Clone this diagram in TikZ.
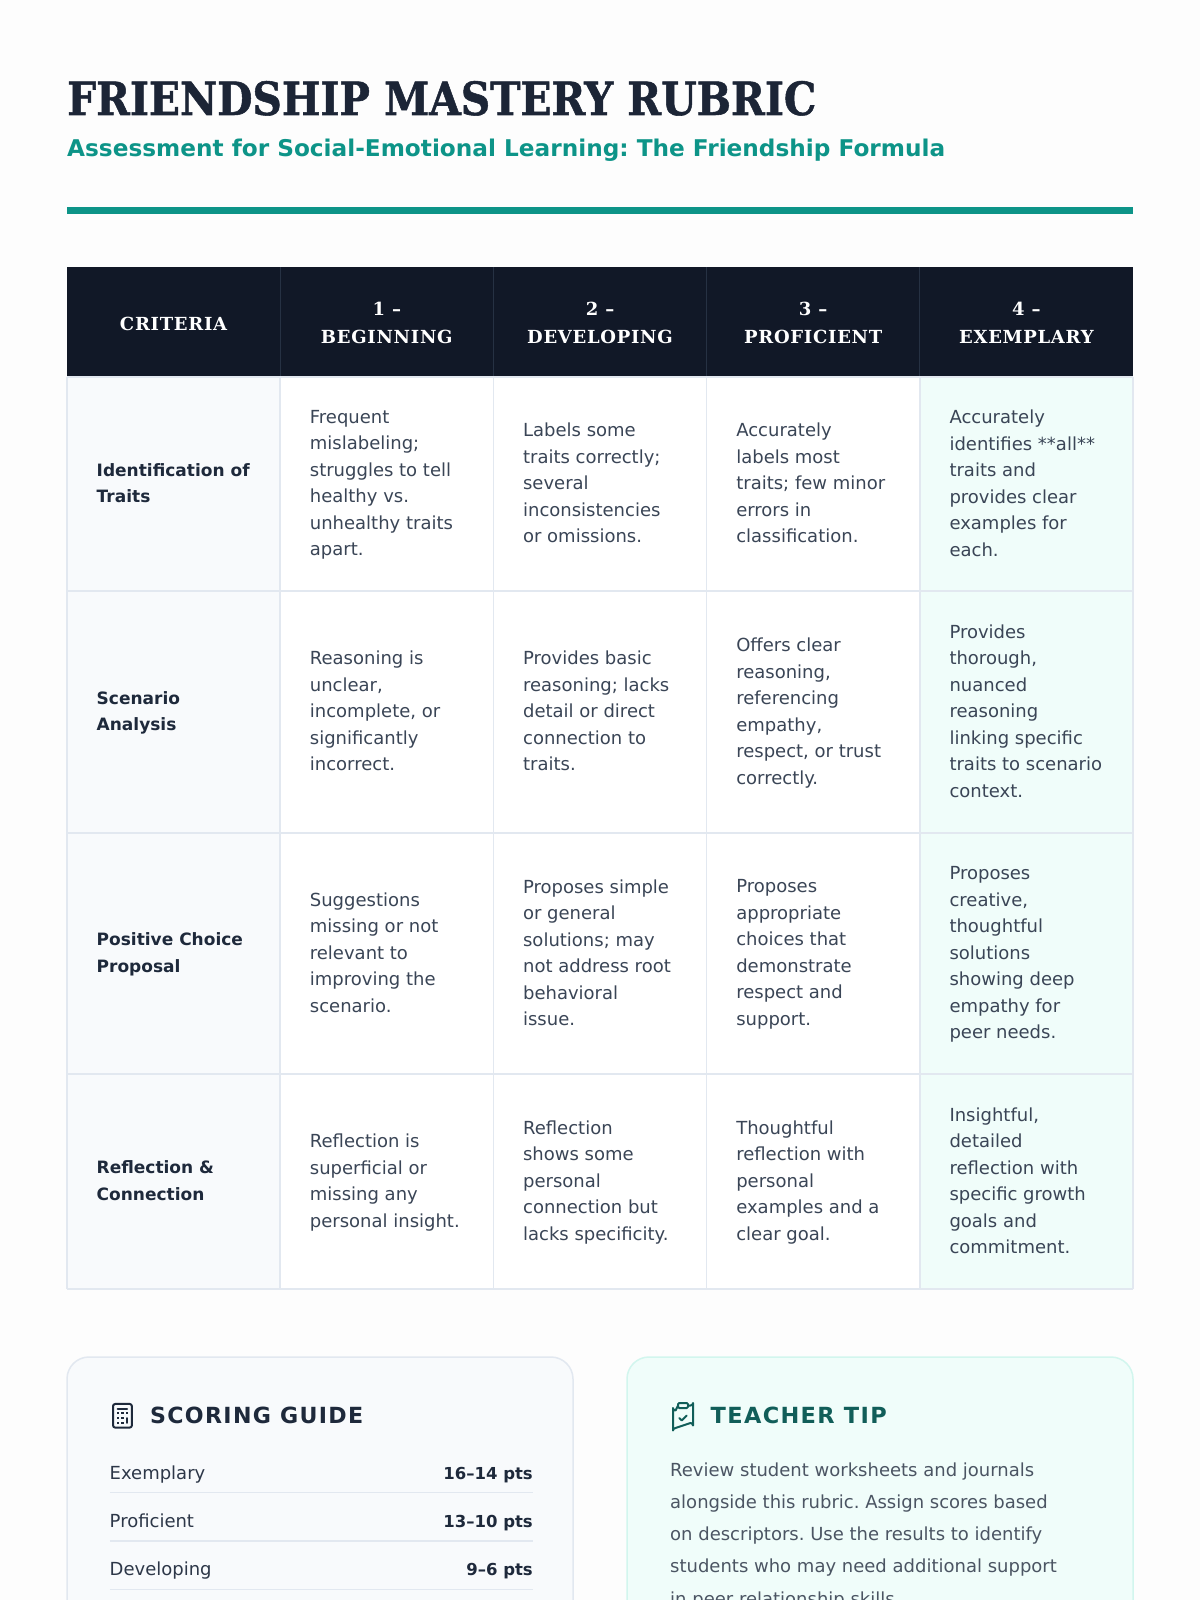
\documentclass[tikz,border=0pt]{standalone}
\usepackage{fontspec}
\usepackage{graphicx}
\setmainfont{DejaVu Sans}
\newfontfamily\slabfont{DejaVu Serif}[BoldFeatures={FakeBold=1.2}]
\newfontfamily\slabspaced{DejaVu Serif}[LetterSpace=4]
\newfontfamily\sansspaced{DejaVu Sans}[LetterSpace=6]
\frenchspacing
\definecolor{pagebg}{HTML}{FDFDFD}
\definecolor{titleink}{HTML}{1C2536}
\definecolor{tealink}{HTML}{0D9488}
\definecolor{headbg}{HTML}{111827}
\definecolor{headsep}{HTML}{263143}
\definecolor{gridline}{HTML}{E2E8F0}
\definecolor{critbg}{HTML}{F8FAFC}
\definecolor{exbg}{HTML}{F0FDFA}
\definecolor{bodyink}{HTML}{3A4556}
\definecolor{critink}{HTML}{1E293B}
\definecolor{rowink}{HTML}{2D3748}
\definecolor{tipborder}{HTML}{D2F6EE}
\definecolor{tipink}{HTML}{115E59}
\definecolor{tiptext}{HTML}{4B5563}
\begin{document}
\begin{tikzpicture}[x=1pt,y=-1pt,
  cellbody/.style={anchor=west, align=left, inner sep=0pt, text=bodyink,
    font=\fontsize{18pt}{26.5pt}\selectfont, yshift=-3pt,
    execute at begin node=\strut, execute at end node=\strut},
  crit/.style={anchor=west, align=left, inner sep=0pt, text=critink,
    font=\bfseries\fontsize{17pt}{26.5pt}\selectfont, yshift=-3pt,
    execute at begin node=\strut, execute at end node=\strut},
  headtxt/.style={align=center, inner sep=0pt, text=white,
    font=\slabspaced\bfseries\fontsize{18pt}{28pt}\selectfont},
  gridrule/.style={draw=gridline, line width=1.5pt},
  rowlabel/.style={anchor=base west, inner sep=0pt, text=rowink,
    font=\fontsize{18pt}{22pt}\selectfont},
  rowvalue/.style={anchor=base east, inner sep=0pt, text=critink,
    font=\bfseries\fontsize{16.5pt}{22pt}\selectfont},
  tipline/.style={anchor=base west, inner sep=0pt, text=tiptext,
    font=\fontsize{18pt}{22pt}\selectfont},
  iconstroke/.style={line width=2pt, line cap=round, line join=round}
]
\clip (0,0) rectangle (1200,1600);
\fill[pagebg] (0,0) rectangle (1200,1600);

% ---------- title block ----------
\node[anchor=base west, inner sep=0pt, text=titleink] (title) at (67,115)
  {\resizebox{749pt}{34pt}{\slabfont\bfseries FRIENDSHIP MASTERY RUBRIC}};
\node[anchor=base west, inner sep=0pt, text=tealink] (subtitle) at (67,156)
  {\resizebox{878pt}{17.5pt}{\bfseries\fontsize{22pt}{26pt}\selectfont Assessment for Social-Emotional Learning: The Friendship Formula}};
\fill[tealink] (67,207.3) rectangle (1133,213.5);

% ---------- table backgrounds ----------
\fill[headbg] (67,267) rectangle (1133,377);
\fill[critbg] (67,377) rectangle (280.2,1289);
\fill[white] (280.2,377) rectangle (919.8,1289);
\fill[exbg] (919.8,377) rectangle (1133,1289);
\foreach \xx in {280.2,493.4,706.6,919.8}
  \draw[headsep, line width=1.2pt] (\xx,267) -- (\xx,377);
\foreach \xx in {67,280.2,493.4,706.6,919.8,1133}
  \draw[gridrule] (\xx,377) -- (\xx,1289);
\foreach \yy in {377,591,833,1074,1289}
  \draw[gridrule] (67,\yy) -- (1133,\yy);

% ---------- header ----------
\node[headtxt] (h0) at (173.6,323.5) {CRITERIA};
\node[headtxt] (h1) at (386.8,322.5) {1 –\\BEGINNING};
\node[headtxt] (h2) at (600,322.5) {2 –\\DEVELOPING};
\node[headtxt] (h3) at (813.2,322.5) {3 –\\PROFICIENT};
\node[headtxt] (h4) at (1026.4,322.5) {4 –\\EXEMPLARY};

% ---------- row 1 ----------
\node[crit] (r1c0) at (96.5,484) {Identification of\\Traits};
\node[cellbody] (r1c1) at (309.7,484) {Frequent\\mislabeling;\\struggles to tell\\healthy vs.\\unhealthy traits\\apart.};
\node[cellbody] (r1c2) at (522.9,484) {Labels some\\traits correctly;\\several\\inconsistencies\\or omissions.};
\node[cellbody] (r1c3) at (736.1,484) {Accurately\\labels most\\traits; few minor\\errors in\\classification.};
\node[cellbody] (r1c4) at (949.3,484) {Accurately\\identifies **all**\\traits and\\provides clear\\examples for\\each.};

% ---------- row 2 ----------
\node[crit] (r2c0) at (96.5,712) {Scenario\\Analysis};
\node[cellbody] (r2c1) at (309.7,712) {Reasoning is\\unclear,\\incomplete, or\\significantly\\incorrect.};
\node[cellbody] (r2c2) at (522.9,712) {Provides basic\\reasoning; lacks\\detail or direct\\connection to\\traits.};
\node[cellbody] (r2c3) at (736.1,712) {Offers clear\\reasoning,\\referencing\\empathy,\\respect, or trust\\correctly.};
\node[cellbody] (r2c4) at (949.3,712) {Provides\\thorough,\\nuanced\\reasoning\\linking specific\\traits to scenario\\context.};

% ---------- row 3 ----------
\node[crit] (r3c0) at (96.5,953.5) {Positive Choice\\Proposal};
\node[cellbody] (r3c1) at (309.7,953.5) {Suggestions\\missing or not\\relevant to\\improving the\\scenario.};
\node[cellbody] (r3c2) at (522.9,953.5) {Proposes simple\\or general\\solutions; may\\not address root\\behavioral\\issue.};
\node[cellbody] (r3c3) at (736.1,953.5) {Proposes\\appropriate\\choices that\\demonstrate\\respect and\\support.};
\node[cellbody] (r3c4) at (949.3,953.5) {Proposes\\creative,\\thoughtful\\solutions\\showing deep\\empathy for\\peer needs.};

% ---------- row 4 ----------
\node[crit] (r4c0) at (96.5,1181.5) {Reflection \&\\Connection};
\node[cellbody] (r4c1) at (309.7,1181.5) {Reflection is\\superficial or\\missing any\\personal insight.};
\node[cellbody] (r4c2) at (522.9,1181.5) {Reflection\\shows some\\personal\\connection but\\lacks specificity.};
\node[cellbody] (r4c3) at (736.1,1181.5) {Thoughtful\\reflection with\\personal\\examples and a\\clear goal.};
\node[cellbody] (r4c4) at (949.3,1181.5) {Insightful,\\detailed\\reflection with\\specific growth\\goals and\\commitment.};

% ---------- cards ----------
\draw[gridline, line width=1.5pt, fill=critbg, rounded corners=22pt] (67,1357) rectangle (573,1720);
\draw[tipborder, line width=1.5pt, fill=exbg, rounded corners=22pt] (627,1357) rectangle (1133,1720);

% calculator icon
\begin{scope}[shift={(108.3,1401.6)}, x=1.18pt, y=-1.18pt]
  \draw[critink, iconstroke, rounded corners=2.2pt] (4,2) rectangle (20,22);
  \draw[critink, iconstroke] (8,6) -- (16,6);
  \draw[critink, iconstroke] (16,14) -- (16,18);
  \foreach \px/\py in {8/10,12/10,16/10,8/14,12/14,8/18,12/18}
    \fill[critink] (\px-0.9,\py-0.9) rectangle (\px+0.9,\py+0.9);
\end{scope}
\node[anchor=base west, inner sep=0pt, text=critink] (sghead) at (150,1423)
  {\resizebox{213pt}{16.5pt}{\sansspaced\bfseries SCORING GUIDE}};

\node[rowlabel] (l1) at (109.5,1479.3) {Exemplary};
\node[rowvalue] (v1) at (533,1479.3) {16–14 pts};
\node[rowlabel] (l2) at (109.5,1527) {Proficient};
\node[rowvalue] (v2) at (533,1527) {13–10 pts};
\node[rowlabel] (l3) at (109.5,1575.7) {Developing};
\node[rowvalue] (v3) at (533,1575.7) {9–6 pts};
\draw[gridrule] (109.5,1492.7) -- (533,1492.7);
\draw[gridrule] (109.5,1541) -- (533,1541);
\draw[gridrule] (109.5,1589.3) -- (533,1589.3);

% clipboard-check icon
\begin{scope}[shift={(668,1400.5)}, x=1.25pt, y=-1.25pt]
  \draw[tipink, iconstroke, rounded corners=1.2pt] (8,2) rectangle (16,6);
  \draw[tipink, iconstroke] (16,4) -- (18,4) arc[start angle=90, end angle=0, radius=2]
    -- (20,20) arc[start angle=0, end angle=-90, radius=2] -- (6,22)
    arc[start angle=270, end angle=180, radius=2] -- (4,6)
    arc[start angle=180, end angle=90, radius=2] -- (8,4);
  \draw[tipink, iconstroke] (9,14) -- (11,16) -- (15,12);
\end{scope}
\node[anchor=base west, inner sep=0pt, text=tipink] (tiphead) at (710.5,1423)
  {\resizebox{176pt}{16.5pt}{\sansspaced\bfseries TEACHER TIP}};

\node[tipline] (t1) at (670,1476) {Review student worksheets and journals};
\node[tipline] (t2) at (670,1508.3) {alongside this rubric. Assign scores based};
\node[tipline] (t3) at (670,1540.6) {on descriptors. Use the results to identify};
\node[tipline] (t4) at (670,1572.9) {students who may need additional support};
\node[tipline] (t5) at (670,1605.2) {in peer relationship skills.};
\end{tikzpicture}
\end{document}
